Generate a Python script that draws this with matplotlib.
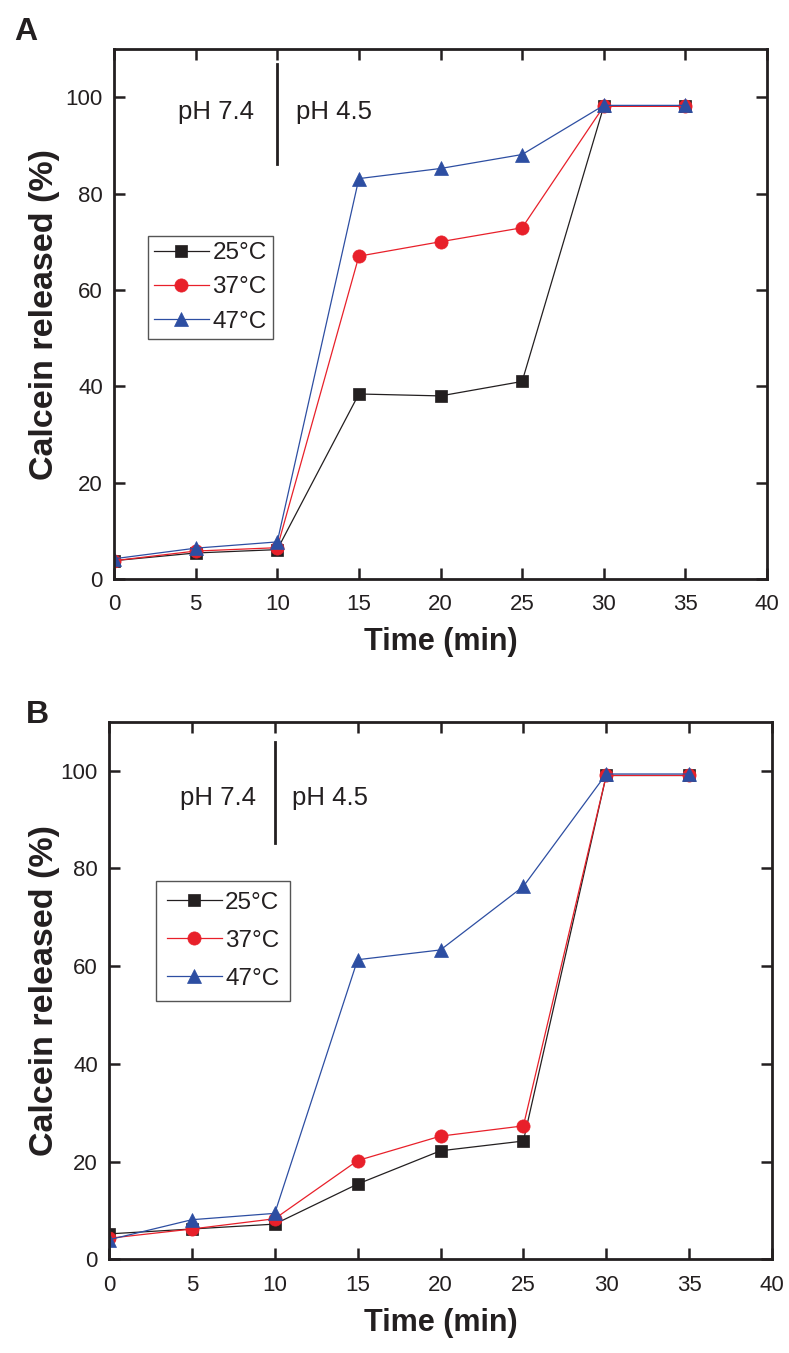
import matplotlib
matplotlib.use("Agg")
import matplotlib.pyplot as plt

plt.rcParams['font.family'] = ['Liberation Sans', 'DejaVu Sans']

# datos
time = [0, 5, 10, 15, 20, 25, 30, 35]
labels = ['25°C', '37°C', '47°C']

a_25 = [3.8, 5.4, 6.1, 38.4, 38.0, 41.0, 98.1, 98.1]
a_37 = [3.8, 5.8, 6.5, 67.0, 70.0, 72.9, 98.1, 98.1]
a_47 = [4.2, 6.4, 7.7, 83.1, 85.2, 88.1, 98.3, 98.3]

b_25 = [5.2, 6.2, 7.2, 15.4, 22.2, 24.2, 99.0, 99.0]
b_37 = [4.3, 6.2, 8.3, 20.2, 25.2, 27.3, 99.0, 99.0]
b_47 = [4.0, 8.1, 9.4, 61.3, 63.3, 76.3, 99.3, 99.3]

ink = '#231F20'
colors = [ink, '#E8202A', '#2D4EA2']
markers = ['s', 'o', '^']
msizes = [9, 9.5, 10.5]

fig = plt.figure(figsize=(7.89, 13.53), dpi=100)
axA = fig.add_axes([114 / 789, 1 - 579 / 1353, 653 / 789, 530 / 1353])
axB = fig.add_axes([109 / 789, 1 - 1259.3 / 1353, 663 / 789, 537.6 / 1353])


def panel(ax, series, leg_xy, leg_pad, leg_space, ph_line, ph_y, ph_x, ylab_x):
    for ys, c, m, ms, lab in zip(series, colors, markers, msizes, labels):
        ax.plot(time, ys, color=c, marker=m, markersize=ms, linewidth=0.9,
                markeredgewidth=0.5, markeredgecolor=c, label=lab)
    ax.set_xlim(0, 40)
    ax.set_ylim(0, 110)
    ax.set_xticks(range(0, 41, 5))
    ax.set_yticks(range(0, 101, 20))
    ax.tick_params(direction='in', top=True, right=True, length=8, width=1.8,
                   color=ink, labelcolor=ink, labelsize=16)
    ax.tick_params(axis='x', pad=11)
    ax.tick_params(axis='y', pad=8)
    for s in ax.spines.values():
        s.set_linewidth(2.0)
        s.set_color(ink)
    ax.set_xlabel('Time (min)', fontsize=22, fontweight='bold', color=ink)
    ax.set_ylabel('Calcein released (%)', fontsize=24.5, fontweight='bold', color=ink)
    ax.xaxis.set_label_coords(0.5, -0.09)
    ax.yaxis.set_label_coords(ylab_x, 0.5)

    # cambio de pH
    ax.plot([10, 10], ph_line, color=ink, linewidth=2.0)
    ax.text(ph_x[0], ph_y, 'pH 7.4', ha='right', va='baseline', fontsize=18.5, color=ink)
    ax.text(ph_x[1], ph_y, 'pH 4.5', ha='left', va='baseline', fontsize=18.5, color=ink)

    leg = ax.legend(loc='upper left', bbox_to_anchor=leg_xy, borderaxespad=0,
                    fontsize=17.5, handlelength=2.25, handletextpad=0.15,
                    borderpad=leg_pad, labelspacing=leg_space, fancybox=False,
                    framealpha=1, edgecolor='#555555')
    leg.get_frame().set_linewidth(1.0)
    for t in leg.get_texts():
        t.set_color(ink)


panel(axA, [a_25, a_37, a_47], (0.052, 0.647), 0.25, 0.5,
      (86.2, 106.8), 95.5, (8.6, 11.15), -0.082)
panel(axB, [b_25, b_37, b_47], (0.0708, 0.7036), 0.45, 0.65,
      (85.2, 105.75), 92.9, (8.86, 11.03), -0.0735)

fig.text(14 / 789, 1 - 40 / 1353, 'A', fontsize=23, fontweight='bold', color=ink)
fig.text(26 / 789, 1 - 723.3 / 1353, 'B', fontsize=23, fontweight='bold', color=ink)

fig.savefig('out.png', dpi=100)
